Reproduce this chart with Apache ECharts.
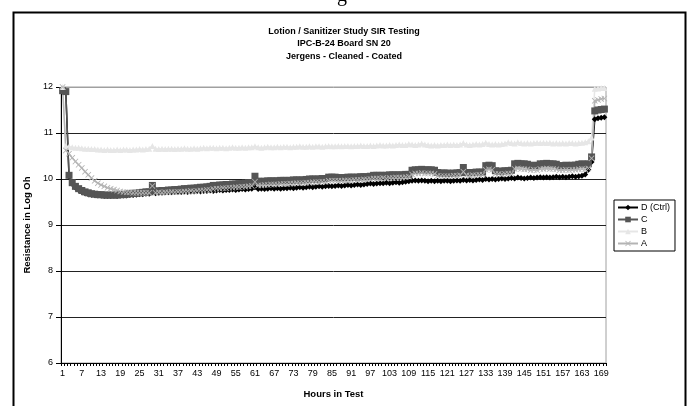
<!DOCTYPE html>
<html>
<head>
<meta charset="utf-8">
<script src="https://cdn.jsdelivr.net/npm/echarts@6/dist/echarts.min.js"></script>
<style>html,body{margin:0;padding:0;background:#fff;}#c{width:688px;height:406px;}</style>
</head>
<body>
<div id="c"></div>
<script>
const categories = [1,2,3,4,5,6,7,8,9,10,11,12,13,14,15,16,17,18,19,20,21,22,23,24,25,26,27,28,29,30,31,32,33,34,35,36,37,38,39,40,41,42,43,44,45,46,47,48,49,50,51,52,53,54,55,56,57,58,59,60,61,62,63,64,65,66,67,68,69,70,71,72,73,74,75,76,77,78,79,80,81,82,83,84,85,86,87,88,89,90,91,92,93,94,95,96,97,98,99,100,101,102,103,104,105,106,107,108,109,110,111,112,113,114,115,116,117,118,119,120,121,122,123,124,125,126,127,128,129,130,131,132,133,134,135,136,137,138,139,140,141,142,143,144,145,146,147,148,149,150,151,152,153,154,155,156,157,158,159,160,161,162,163,164,165,166,167,168,169,170];

const seriesD = [
11.92,11.90,10.05,9.89,9.81,9.76,9.72,9.69,9.67,9.66,
9.65,9.64,9.64,9.63,9.63,9.63,9.64,9.63,9.64,9.64,
9.64,9.65,9.65,9.66,9.67,9.67,9.68,9.68,9.72,9.69,
9.70,9.70,9.71,9.71,9.71,9.72,9.72,9.72,9.73,9.72,
9.73,9.73,9.74,9.73,9.74,9.74,9.75,9.74,9.75,9.76,
9.75,9.76,9.76,9.77,9.76,9.77,9.78,9.77,9.78,9.79,
9.82,9.78,9.79,9.78,9.79,9.80,9.79,9.80,9.79,9.80,
9.80,9.81,9.80,9.81,9.82,9.81,9.82,9.83,9.82,9.83,
9.84,9.83,9.84,9.85,9.84,9.85,9.86,9.85,9.86,9.87,
9.86,9.87,9.88,9.87,9.88,9.89,9.90,9.89,9.90,9.91,
9.91,9.92,9.91,9.92,9.93,9.92,9.93,9.94,9.95,9.96,
9.97,9.96,9.97,9.96,9.95,9.96,9.95,9.96,9.95,9.96,
9.96,9.95,9.96,9.97,9.96,9.98,9.97,9.98,9.97,9.98,
9.99,9.98,10.00,9.99,10.00,9.99,10.00,10.01,10.00,10.01,
10.02,10.01,10.03,10.02,10.01,10.02,10.03,10.02,10.03,10.04,
10.03,10.04,10.03,10.04,10.05,10.04,10.05,10.04,10.05,10.06,
10.05,10.06,10.07,10.10,10.20,10.37,11.30,11.32,11.33,11.34];

const seriesC = [
11.92,11.90,10.08,9.92,9.84,9.79,9.75,9.72,9.70,9.68,
9.67,9.66,9.66,9.65,9.65,9.65,9.65,9.65,9.66,9.66,
9.67,9.68,9.69,9.69,9.70,9.71,9.72,9.72,9.86,9.74,
9.74,9.75,9.75,9.76,9.76,9.77,9.77,9.78,9.79,9.79,
9.80,9.80,9.81,9.82,9.82,9.83,9.84,9.86,9.86,9.87,
9.87,9.88,9.88,9.89,9.89,9.90,9.90,9.91,9.92,9.92,
10.06,9.95,9.95,9.95,9.96,9.96,9.96,9.96,9.97,9.97,
9.97,9.97,9.98,9.98,9.98,9.98,9.99,10.00,10.00,10.00,
10.00,10.01,10.01,10.04,10.04,10.04,10.03,10.03,10.03,10.04,
10.04,10.04,10.04,10.05,10.05,10.05,10.06,10.08,10.08,10.08,
10.08,10.08,10.09,10.09,10.09,10.09,10.09,10.10,10.10,10.19,
10.20,10.20,10.21,10.20,10.20,10.20,10.19,10.14,10.13,10.13,
10.13,10.12,10.13,10.13,10.14,10.25,10.14,10.14,10.14,10.15,
10.15,10.15,10.29,10.30,10.29,10.18,10.17,10.17,10.18,10.18,
10.19,10.33,10.34,10.33,10.33,10.32,10.29,10.30,10.29,10.33,
10.33,10.34,10.33,10.33,10.32,10.29,10.29,10.30,10.29,10.30,
10.30,10.32,10.33,10.32,10.33,10.48,11.48,11.50,11.51,11.52];

const seriesB = [
12.00,10.72,10.70,10.69,10.68,10.68,10.67,10.66,10.66,10.65,
10.65,10.64,10.64,10.63,10.64,10.63,10.63,10.64,10.63,10.64,
10.64,10.63,10.64,10.64,10.65,10.64,10.65,10.66,10.72,10.66,
10.65,10.66,10.65,10.66,10.66,10.65,10.66,10.66,10.67,10.66,
10.66,10.67,10.66,10.67,10.68,10.67,10.68,10.68,10.67,10.68,
10.68,10.67,10.68,10.69,10.68,10.68,10.69,10.68,10.69,10.69,
10.71,10.69,10.68,10.69,10.70,10.69,10.69,10.70,10.69,10.70,
10.70,10.69,10.70,10.70,10.71,10.70,10.70,10.71,10.70,10.71,
10.71,10.70,10.71,10.72,10.71,10.71,10.72,10.71,10.72,10.72,
10.71,10.72,10.72,10.73,10.72,10.72,10.73,10.72,10.73,10.74,
10.73,10.73,10.74,10.73,10.74,10.75,10.74,10.74,10.76,10.75,
10.74,10.75,10.77,10.75,10.74,10.73,10.74,10.73,10.74,10.74,
10.75,10.74,10.75,10.74,10.75,10.78,10.75,10.74,10.75,10.76,
10.75,10.76,10.79,10.76,10.75,10.76,10.75,10.76,10.77,10.80,
10.78,10.77,10.80,10.78,10.77,10.78,10.77,10.78,10.79,10.78,
10.79,10.78,10.79,10.77,10.78,10.77,10.78,10.77,10.78,10.78,
10.77,10.78,10.79,10.80,10.82,10.90,11.96,11.97,11.98,11.98];

const seriesA = [
12.00,10.62,10.55,10.46,10.38,10.31,10.24,10.16,10.09,10.02,
9.96,9.91,9.87,9.84,9.81,9.79,9.77,9.75,9.73,9.72,
9.71,9.71,9.70,9.70,9.70,9.70,9.70,9.70,9.85,9.70,
9.71,9.70,9.71,9.71,9.72,9.71,9.72,9.72,9.73,9.73,
9.74,9.73,9.74,9.75,9.75,9.76,9.76,9.78,9.79,9.79,
9.80,9.80,9.81,9.81,9.82,9.82,9.83,9.83,9.84,9.85,
9.94,9.86,9.86,9.87,9.87,9.88,9.88,9.88,9.89,9.89,
9.89,9.90,9.90,9.91,9.91,9.91,9.92,9.92,9.93,9.93,
9.93,9.94,9.94,9.96,9.96,9.96,9.96,9.96,9.97,9.97,
9.97,9.98,9.98,9.98,9.99,9.99,10.00,10.01,10.01,10.01,
10.02,10.01,10.02,10.02,10.03,10.03,10.03,10.04,10.05,10.10,
10.12,10.12,10.13,10.12,10.12,10.12,10.11,10.07,10.06,10.06,
10.06,10.06,10.07,10.07,10.08,10.16,10.08,10.07,10.08,10.08,
10.09,10.09,10.20,10.21,10.20,10.11,10.11,10.10,10.11,10.12,
10.12,10.22,10.23,10.22,10.21,10.21,10.19,10.20,10.19,10.22,
10.22,10.23,10.22,10.22,10.21,10.19,10.19,10.20,10.19,10.20,
10.20,10.21,10.22,10.21,10.23,10.45,11.70,11.72,11.74,11.75];

const seriesNames = ['D (Ctrl)', 'C', 'B', 'A'];
const titleLines = ['Lotion / Sanitizer Study SIR Testing', 'IPC-B-24 Board SN 20', 'Jergens - Cleaned - Coated'];

const FONT = 'Arial, "Liberation Sans", sans-serif';
const XPATH = 'path://M0,1L1,0L5,4L9,0L10,1L6,5L10,9L9,10L5,6L1,10L0,9L4,5Z';

function mk(name, data, color, symbol, size) {
  return {
    name: name, type: 'line', data: data,
    symbol: symbol, symbolSize: size, showAllSymbol: true,
    itemStyle: { color: color },
    lineStyle: { color: color, width: 1.5 },
    emphasis: { disabled: true },
    animation: false
  };
}

const chart = echarts.init(document.getElementById('c'), null, { renderer: 'canvas' });
chart.setOption({
  backgroundColor: '#fff',
  animation: false,
  title: {
    text: titleLines.join('\n'),
    left: 'center', top: 20,
    textStyle: { fontFamily: FONT, fontSize: 9, fontWeight: 'bold', color: '#000', lineHeight: 12.5 }
  },
  legend: {
    orient: 'vertical', left: 614, top: 200,
    data: seriesNames,
    itemWidth: 20, itemHeight: 7, itemGap: 3,
    padding: [3, 5, 3, 3],
    borderColor: '#000', borderWidth: 1,
    textStyle: { fontFamily: FONT, fontSize: 9, color: '#000', padding: [0, 0, 0, -2] },
    selectedMode: false
  },
  grid: { left: 61, right: 82, top: 87, bottom: 43, show: true, borderColor: '#a0a0a0', borderWidth: 1, backgroundColor: 'transparent' },
  xAxis: {
    type: 'category', data: categories, boundaryGap: true,
    name: 'Hours in Test', nameLocation: 'middle', nameGap: 26,
    nameTextStyle: { fontFamily: FONT, fontSize: 9.5, fontWeight: 'bold', color: '#000' },
    axisLine: { lineStyle: { color: '#000', width: 1 } },
    axisTick: { show: true, interval: 0, length: 3, lineStyle: { color: '#000' } },
    axisLabel: { interval: 5, fontFamily: FONT, fontSize: 9, color: '#000', margin: 6 },
    splitLine: { show: false }
  },
  yAxis: {
    type: 'value', min: 6, max: 12, interval: 1,
    name: 'Resistance in Log Oh', nameLocation: 'middle', nameGap: 28,
    nameTextStyle: { fontFamily: FONT, fontSize: 9.5, fontWeight: 'bold', color: '#000' },
    axisLine: { show: true, lineStyle: { color: '#000', width: 1 } },
    axisTick: { show: true, length: 5, lineStyle: { color: '#000' } },
    axisLabel: { fontFamily: FONT, fontSize: 9, color: '#000', margin: 8 },
    splitLine: { show: true, lineStyle: { color: ['#000', '#222', '#222', '#222', '#222', '#222', '#a0a0a0'], width: 1 } }
  },
  graphic: [
    { type: 'rect', left: 11, top: 10, shape: { width: 672, height: 420 }, style: { fill: 'none', stroke: '#000', lineWidth: 2 }, silent: true },
    { type: 'text', left: 337, top: -14, style: { text: 'g', font: '20px "Liberation Serif", serif', fill: '#000' }, silent: true }
  ],
  series: [
    mk(seriesNames[0], seriesD, '#000000', 'diamond', 6),
    mk(seriesNames[1], seriesC, '#555555', 'rect', 7),
    mk(seriesNames[2], seriesB, '#e6e6e6', 'triangle', 6),
    mk(seriesNames[3], seriesA, '#b4b4b4', XPATH, 6)
  ]
});
</script>
</body>
</html>
